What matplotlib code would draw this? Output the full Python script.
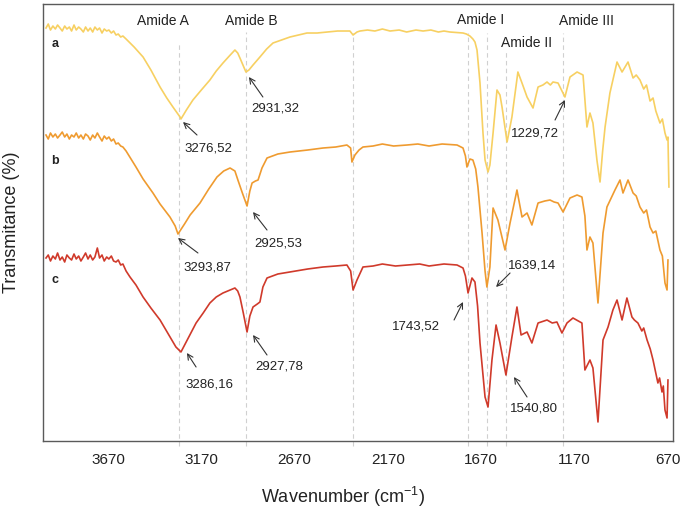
import matplotlib
matplotlib.use("Agg")
import matplotlib.pyplot as plt

plt.rcParams['font.family'] = ['Liberation Sans', 'DejaVu Sans']
plt.rcParams['mathtext.default'] = 'regular'

# wavenumber grid of the noisy plateau at the high-wavenumber end
w_plateau = [4002, 3990, 3978, 3965, 3952, 3940, 3927, 3915, 3902, 3890, 3877, 3865,
             3852, 3840, 3827, 3815, 3802, 3790, 3777, 3765, 3752, 3740, 3727, 3715,
             3702, 3690, 3677, 3665, 3652, 3640, 3627, 3615, 3602, 3590]

# spectrum a (yellow), transmittance in arbitrary offset units
a_plateau = [413, 417, 411, 415, 412, 416, 413, 410, 415, 412, 414, 410,
             416, 411, 414, 412, 409, 414, 410, 413, 409, 414, 411, 413,
             408, 412, 410, 411, 408, 410, 406, 407, 404, 405]
a_rest = [(3573, 402), (3530, 394), (3482, 384), (3440, 371), (3391, 354), (3355, 343),
          (3322, 334), (3284, 324), (3279, 322), (3250, 331), (3215, 341), (3170, 351),
          (3124, 361), (3090, 370), (3054, 378), (3020, 385), (2990, 391), (2975, 388),
          (2963, 383), (2945, 375), (2931, 369), (2915, 371), (2893, 376), (2856, 384),
          (2820, 392), (2786, 398), (2740, 401), (2695, 404), (2650, 406), (2604, 408),
          (2550, 408), (2497, 409), (2440, 410), (2374, 410), (2357, 406), (2336, 409),
          (2320, 410), (2280, 411), (2240, 410), (2200, 412), (2159, 410), (2110, 411),
          (2070, 409), (2020, 411), (1982, 410), (1940, 411), (1900, 409), (1870, 410),
          (1838, 409), (1768, 408), (1750, 407), (1731, 405), (1715, 402), (1704, 399),
          (1693, 391), (1677, 358), (1661, 308), (1650, 281), (1634, 269), (1624, 276),
          (1607, 308), (1586, 351), (1570, 346), (1559, 334), (1532, 299), (1506, 324),
          (1474, 369), (1452, 358), (1425, 344), (1393, 333), (1366, 354), (1340, 356),
          (1318, 359), (1300, 356), (1286, 359), (1259, 358), (1222, 344), (1195, 364),
          (1157, 369), (1125, 366), (1115, 341), (1104, 314), (1088, 328), (1072, 318),
          (1050, 280), (1034, 259), (1020, 290), (1007, 314), (981, 348), (943, 379),
          (916, 369), (884, 379), (857, 363), (840, 366), (820, 361), (800, 352),
          (785, 356), (766, 340), (750, 343), (735, 330), (713, 318), (700, 322),
          (686, 308), (675, 301), (670, 304), (665, 254)]

# spectrum b (orange)
b_plateau = [306, 302, 308, 304, 307, 303, 306, 309, 304, 307, 302, 306,
             304, 308, 303, 306, 302, 307, 305, 301, 306, 303, 308, 304,
             300, 305, 302, 304, 300, 302, 297, 298, 295, 294]
b_rest = [(3573, 290), (3520, 274), (3482, 262), (3429, 248), (3391, 237), (3338, 224),
          (3310, 215), (3295, 207), (3260, 217), (3230, 226), (3177, 238), (3130, 252),
          (3086, 264), (3050, 270), (3016, 273), (2990, 270), (2974, 261), (2950, 248),
          (2925, 235), (2910, 250), (2898, 258), (2880, 260), (2866, 261), (2845, 273),
          (2818, 283), (2760, 287), (2695, 289), (2600, 291), (2518, 293), (2450, 294),
          (2390, 296), (2370, 293), (2363, 279), (2347, 286), (2325, 291), (2304, 294),
          (2250, 295), (2200, 297), (2140, 295), (2068, 296), (2010, 297), (1950, 295),
          (1880, 297), (1800, 296), (1768, 293), (1755, 285),
          (1747, 274), (1731, 282), (1715, 281), (1700, 272), (1688, 254), (1666, 208),
          (1650, 170), (1640, 154), (1624, 174), (1607, 233), (1581, 221), (1543, 191),
          (1516, 218), (1479, 251), (1452, 224), (1425, 228), (1399, 216), (1366, 238),
          (1330, 240), (1302, 241), (1280, 239), (1259, 238), (1232, 229), (1195, 243),
          (1157, 246), (1131, 244), (1115, 225), (1104, 191), (1088, 204), (1072, 198),
          (1045, 138), (1018, 208), (997, 234), (954, 251), (927, 261), (911, 248),
          (884, 261), (857, 248), (840, 245), (820, 234), (800, 228), (785, 231),
          (766, 214), (750, 208), (735, 210), (713, 191), (700, 185), (686, 158),
          (675, 151), (670, 181)]

# spectrum c (red)
c_plateau = [183, 186, 180, 185, 182, 188, 181, 184, 179, 186, 183, 181,
             187, 182, 185, 180, 184, 188, 182, 186, 181, 184, 193, 183,
             186, 180, 184, 182, 185, 180, 179, 181, 176, 177]
c_rest = [(3573, 170), (3552, 164), (3520, 156), (3482, 144), (3440, 133), (3391, 121),
          (3350, 108), (3306, 94), (3279, 89), (3240, 103), (3198, 118), (3160, 128),
          (3124, 138), (3090, 144), (3054, 148), (3016, 151), (2990, 153), (2975, 150),
          (2963, 144), (2945, 128), (2925, 109), (2910, 125), (2893, 134), (2870, 137),
          (2856, 139), (2840, 154), (2818, 163), (2760, 167), (2695, 169), (2600, 172),
          (2518, 174), (2450, 175), (2390, 176), (2370, 170), (2357, 151), (2336, 161),
          (2304, 174), (2250, 175), (2200, 177), (2130, 175), (2068, 176), (2000, 177),
          (1950, 175), (1870, 177), (1800, 176), (1768, 173),
          (1755, 165), (1741, 148), (1720, 163), (1704, 159), (1690, 135), (1677, 98),
          (1650, 44), (1634, 34), (1613, 81), (1591, 116), (1570, 98), (1538, 66),
          (1506, 104), (1479, 134), (1457, 106), (1425, 109), (1399, 98), (1366, 118),
          (1318, 121), (1290, 118), (1265, 119), (1238, 108), (1211, 118), (1179, 123),
          (1131, 118), (1115, 71), (1088, 81), (1072, 73), (1045, 19), (1018, 101),
          (991, 114), (965, 131), (943, 141), (916, 121), (890, 143), (863, 124),
          (850, 121), (831, 118), (810, 110), (800, 113), (782, 101), (765, 92),
          (750, 81), (740, 72), (724, 58), (715, 63), (702, 49), (695, 55),
          (686, 31), (675, 23), (670, 61)]

spectra = [
    ("a", a_plateau, a_rest, "#F7D062"),
    ("b", b_plateau, b_rest, "#EF9B30"),
    ("c", c_plateau, c_rest, "#D03A2B"),
]

# band guide lines: position, top of the dashed line
guides = [(3290, 399), (2930, 409), (2360, 408), (1743, 408), (1639, 408), (1540, 389), (1230, 408)]

bands = [("Amide A", 3375, 420), ("Amide B", 2904, 420), ("Amide I", 1672, 421),
         ("Amide II", 1425, 398), ("Amide III", 1109, 420)]

# label, text position, arrow tail, arrow head
peaks = [
    ("3276,52", (3134, 293), (3193, 306), (3268, 319)),
    ("2931,32", (2775, 333), (2840, 344), (2915, 364)),
    ("1229,72", (1382, 308), (1275, 321), (1222, 341)),
    ("3293,87", (3140, 174), (3188, 188), (3295, 203)),
    ("2925,53", (2759, 198), (2818, 211), (2893, 229)),
    ("1639,14", (1399, 176), (1516, 168), (1591, 154)),
    ("3286,16", (3124, 56), (3198, 74), (3247, 88)),
    ("2927,78", (2754, 74), (2818, 86), (2893, 106)),
    ("1743,52", (2020, 114), (1816, 121), (1768, 139)),
    ("1540,80", (1388, 32), (1425, 44), (1495, 64)),
]

series_labels = [("a", 3954, 397), ("b", 3954, 280), ("c", 3954, 161)]

xticks = [3670, 3170, 2670, 2170, 1670, 1170, 670]

fig = plt.figure(figsize=(6.85, 5.08), dpi=100)
ax = fig.add_axes([0.0628, 0.1319, 0.9197, 0.8602])

for pos, top in guides:
    ax.plot([pos, pos], [-5, top], color="#d0d0d0", lw=0.8, ls=(0, (4, 3)), clip_on=False, zorder=1)

for name, plateau, rest, color in spectra:
    xs = w_plateau + [p[0] for p in rest]
    ys = plateau + [p[1] for p in rest]
    ax.plot(xs, ys, color=color, lw=1.2, zorder=3)

for text, x, y in bands:
    ax.text(x, y, text, ha="center", va="center", fontsize=10, color="#222222")

for text, x, y in series_labels:
    ax.text(x, y, text, ha="center", va="center", fontsize=9, fontweight="bold", color="#222222")

for text, txt_xy, tail, head in peaks:
    ax.text(txt_xy[0], txt_xy[1], text, ha="center", va="center", fontsize=9.5, color="#222222")
    ax.annotate("", xy=head, xytext=tail,
                arrowprops=dict(arrowstyle="->", color="#333333", lw=0.8, shrinkA=0, shrinkB=0))

ax.set_xlim(4018, 643)
ax.set_ylim(0, 437)
ax.set_xticks(xticks)
ax.set_xticklabels([str(t) for t in xticks])
ax.set_yticks([])
ax.tick_params(axis="x", length=0, pad=9, labelsize=11, labelcolor="#222222")
for spine in ax.spines.values():
    spine.set_color("#5a5a5a")
    spine.set_linewidth(1.0)

ax.set_xlabel("Wavenumber (cm$^{-1}$)", fontsize=13, color="#222222")
ax.xaxis.set_label_coords(0.476, -0.1)
ax.xaxis.label.set_va("top")
ax.set_ylabel("Transmitance (%)", fontsize=13, color="#222222")
ax.yaxis.set_label_coords(-0.037, 0.501)

fig.savefig("out.png", dpi=100)
